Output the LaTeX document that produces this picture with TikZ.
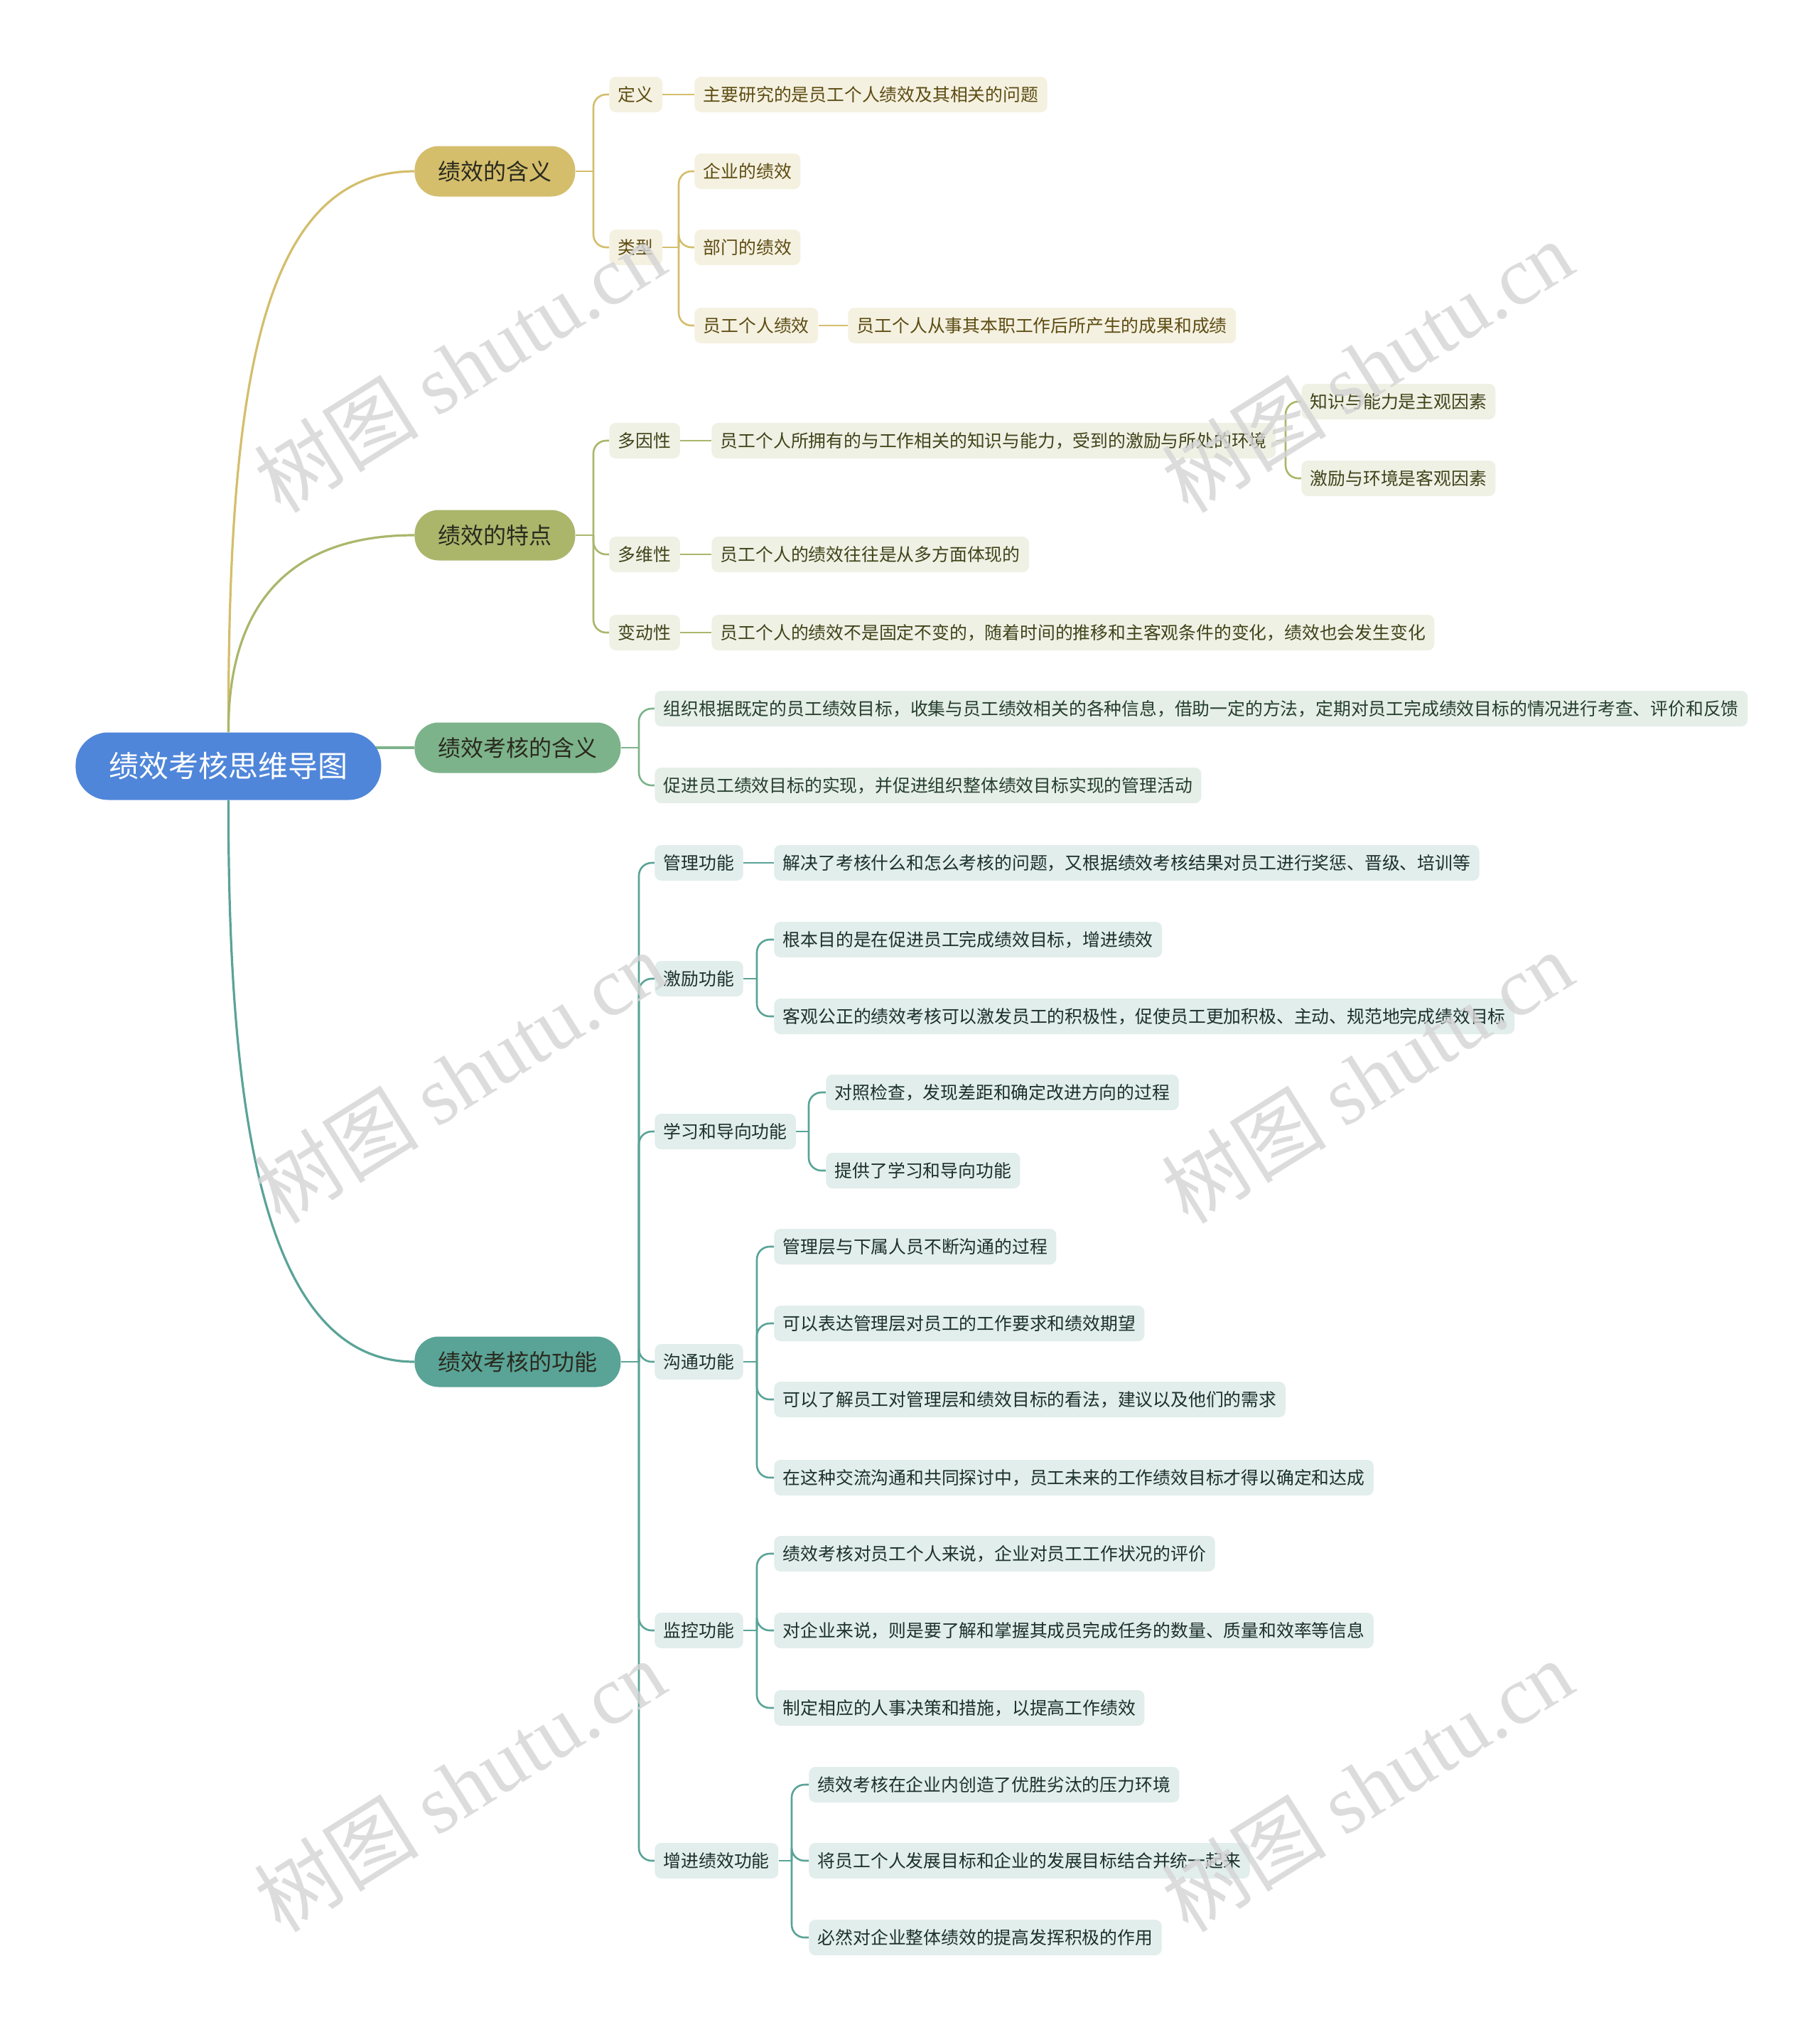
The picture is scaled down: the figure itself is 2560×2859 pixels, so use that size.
\documentclass[tikz,border=0pt]{standalone}
\usepackage{fontspec}
\setmainfont{Noto Sans CJK SC}
\newfontfamily\wmlatin{Liberation Serif}
\usetikzlibrary{calc,backgrounds}
\definecolor{rootc}{HTML}{4F86D9}
\definecolor{goldc}{HTML}{D4BE6C}
\definecolor{goldl}{HTML}{F5F1E1}
\definecolor{goldt}{HTML}{5C4C12}
\definecolor{olivec}{HTML}{ABB66B}
\definecolor{olivel}{HTML}{F0F1E5}
\definecolor{olivet}{HTML}{3F4419}
\definecolor{greenc}{HTML}{7DB38B}
\definecolor{greenl}{HTML}{E5EFE8}
\definecolor{greent}{HTML}{263E2C}
\definecolor{tealc}{HTML}{5AA397}
\definecolor{teall}{HTML}{E1EEEB}
\definecolor{tealt}{HTML}{1C302C}
\definecolor{maint}{HTML}{2A2A1E}
\definecolor{wmgray}{HTML}{D4D4D4}
\begin{document}
\begin{tikzpicture}[x=0.5pt,y=-0.5pt,
  every node/.style={inner ysep=0pt},
  rootnode/.style={fill=rootc,text=white,font=\fontsize{21}{25}\selectfont,rounded corners=23pt,minimum height=47.5pt,inner xsep=23.5pt,anchor=west},
  mainnode/.style={text=maint,font=\fontsize{16}{19}\selectfont,rounded corners=17pt,minimum height=35.5pt,inner xsep=16.5pt,anchor=west},
  leaf/.style={font=\fontsize{12.4}{15}\selectfont,rounded corners=4.5pt,minimum height=25pt,inner xsep=6.25pt,anchor=west},
  gleaf/.style={leaf,fill=goldl,text=goldt},
  oleaf/.style={leaf,fill=olivel,text=olivet},
  eleaf/.style={leaf,fill=greenl,text=greent},
  tleaf/.style={leaf,fill=teall,text=tealt},
  rootline/.style={line width=1.6pt},
  link/.style={line width=1.3pt,rounded corners=9pt},
  wm/.style={text=wmgray,opacity=0.8,rotate=32,font=\fontsize{58}{62}\selectfont}
]
\begin{pgfonlayer}{background}
\fill[white] (0,0) rectangle (2560,2859);
\end{pgfonlayer}
\useasboundingbox (0,0) rectangle (2560,2859);

% root and main branches
\node[rootnode] (root) at (106,1078) {绩效考核思维导图};
\node[mainnode,fill=goldc] (m1) at (583,241) {绩效的含义};
\node[mainnode,fill=olivec] (m2) at (583,753) {绩效的特点};
\node[mainnode,fill=greenc] (m3) at (583,1052) {绩效考核的含义};
\node[mainnode,fill=tealc] (m4) at (583,1916) {绩效考核的功能};

% branch 1
\node[gleaf] (a1) at (857,133) {定义};
\node[gleaf] (a1c) at (977,133) {主要研究的是员工个人绩效及其相关的问题};
\node[gleaf] (a2) at (857,348) {类型};
\node[gleaf] (a21) at (977,241) {企业的绩效};
\node[gleaf] (a22) at (977,348) {部门的绩效};
\node[gleaf] (a23) at (977,458) {员工个人绩效};
\node[gleaf] (a23c) at (1193,458) {员工个人从事其本职工作后所产生的成果和成绩};

% branch 2
\node[oleaf] (b1) at (857,620) {多因性};
\node[oleaf] (b1c) at (1001,620) {员工个人所拥有的与工作相关的知识与能力，受到的激励与所处的环境};
\node[oleaf] (b11) at (1831,565) {知识与能力是主观因素};
\node[oleaf] (b12) at (1831,673) {激励与环境是客观因素};
\node[oleaf] (b2) at (857,780) {多维性};
\node[oleaf] (b2c) at (1001,780) {员工个人的绩效往往是从多方面体现的};
\node[oleaf] (b3) at (857,890) {变动性};
\node[oleaf] (b3c) at (1001,890) {员工个人的绩效不是固定不变的，随着时间的推移和主客观条件的变化，绩效也会发生变化};

% branch 3
\node[eleaf] (c1) at (921,997) {组织根据既定的员工绩效目标，收集与员工绩效相关的各种信息，借助一定的方法，定期对员工完成绩效目标的情况进行考查、评价和反馈};
\node[eleaf] (c2) at (921,1105) {促进员工绩效目标的实现，并促进组织整体绩效目标实现的管理活动};

% branch 4
\node[tleaf] (d1) at (921,1214) {管理功能};
\node[tleaf] (d1c) at (1089,1214) {解决了考核什么和怎么考核的问题，又根据绩效考核结果对员工进行奖惩、晋级、培训等};
\node[tleaf] (d2) at (921,1377) {激励功能};
\node[tleaf] (d21) at (1089,1322) {根本目的是在促进员工完成绩效目标，增进绩效};
\node[tleaf] (d22) at (1089,1430) {客观公正的绩效考核可以激发员工的积极性，促使员工更加积极、主动、规范地完成绩效目标};
\node[tleaf] (d3) at (921,1592) {学习和导向功能};
\node[tleaf] (d31) at (1162,1537) {对照检查，发现差距和确定改进方向的过程};
\node[tleaf] (d32) at (1162,1647) {提供了学习和导向功能};
\node[tleaf] (d4) at (921,1916) {沟通功能};
\node[tleaf] (d41) at (1089,1754) {管理层与下属人员不断沟通的过程};
\node[tleaf] (d42) at (1089,1862) {可以表达管理层对员工的工作要求和绩效期望};
\node[tleaf] (d43) at (1089,1969) {可以了解员工对管理层和绩效目标的看法，建议以及他们的需求};
\node[tleaf] (d44) at (1089,2079) {在这种交流沟通和共同探讨中，员工未来的工作绩效目标才得以确定和达成};
\node[tleaf] (d5) at (921,2294) {监控功能};
\node[tleaf] (d51) at (1089,2186) {绩效考核对员工个人来说，企业对员工工作状况的评价};
\node[tleaf] (d52) at (1089,2294) {对企业来说，则是要了解和掌握其成员完成任务的数量、质量和效率等信息};
\node[tleaf] (d53) at (1089,2403) {制定相应的人事决策和措施，以提高工作绩效};
\node[tleaf] (d6) at (921,2618) {增进绩效功能};
\node[tleaf] (d61) at (1138,2511) {绩效考核在企业内创造了优胜劣汰的压力环境};
\node[tleaf] (d62) at (1138,2618) {将员工个人发展目标和企业的发展目标结合并统一起来};
\node[tleaf] (d63) at (1138,2726) {必然对企业整体绩效的提高发挥积极的作用};

\begin{pgfonlayer}{background}
% root connectors
\draw[rootline,goldc] (root.north) .. controls (321,547) and (365,241) .. (m1.west);
\draw[rootline,olivec] (root.north) .. controls (321,857) and (401,753) .. (m2.west);
\draw[rootline,greenc] (root.center |- m3.west) -- (m3.west);
\draw[rootline,tealc] (root.south) .. controls (321,1550) and (365,1916) .. (m4.west);

% branch 1 links
\draw[link,goldc] (m1.east) -- (835,241);
\foreach \c in {a1,a2} \draw[link,goldc] (835,241) |- (\c.west);
\draw[link,goldc] (a1.east) -- (a1c.west);
\draw[link,goldc] (a2.east) -- (955,348);
\foreach \c in {a21,a22,a23} \draw[link,goldc] (955,348) |- (\c.west);
\draw[link,goldc] (a23.east) -- (a23c.west);

% branch 2 links
\draw[link,olivec] (m2.east) -- (835,753);
\foreach \c in {b1,b2,b3} \draw[link,olivec] (835,753) |- (\c.west);
\draw[link,olivec] (b1.east) -- (b1c.west);
\draw[link,olivec] (b2.east) -- (b2c.west);
\draw[link,olivec] (b3.east) -- (b3c.west);
\draw[link,olivec] (b1c.east) -- (1809,620);
\foreach \c in {b11,b12} \draw[link,olivec] (1809,620) |- (\c.west);

% branch 3 links
\draw[link,greenc] (m3.east) -- (899,1052);
\foreach \c in {c1,c2} \draw[link,greenc] (899,1052) |- (\c.west);

% branch 4 links
\draw[link,tealc] (m4.east) -- (899,1916);
\foreach \c in {d1,d2,d3,d4,d5,d6} \draw[link,tealc] (899,1916) |- (\c.west);
\draw[link,tealc] (d1.east) -- (d1c.west);
\draw[link,tealc] (d2.east) -- (1065,1377);
\foreach \c in {d21,d22} \draw[link,tealc] (1065,1377) |- (\c.west);
\draw[link,tealc] (d3.east) -- (1138,1592);
\foreach \c in {d31,d32} \draw[link,tealc] (1138,1592) |- (\c.west);
\draw[link,tealc] (d4.east) -- (1065,1916);
\foreach \c in {d41,d42,d43,d44} \draw[link,tealc] (1065,1916) |- (\c.west);
\draw[link,tealc] (d5.east) -- (1065,2294);
\foreach \c in {d51,d52,d53} \draw[link,tealc] (1065,2294) |- (\c.west);
\draw[link,tealc] (d6.east) -- (1114,2618);
\foreach \c in {d61,d62,d63} \draw[link,tealc] (1114,2618) |- (\c.west);
\end{pgfonlayer}

% watermarks
\node[wm] (w1) at (647,515) {树图 {\wmlatin shutu.cn}};
\node[wm] (w2) at (1924,515) {树图 {\wmlatin shutu.cn}};
\node[wm] (w3) at (647,1515) {树图 {\wmlatin shutu.cn}};
\node[wm] (w4) at (1924,1515) {树图 {\wmlatin shutu.cn}};
\node[wm] (w5) at (647,2512) {树图 {\wmlatin shutu.cn}};
\node[wm] (w6) at (1924,2512) {树图 {\wmlatin shutu.cn}};
\end{tikzpicture}
\end{document}
